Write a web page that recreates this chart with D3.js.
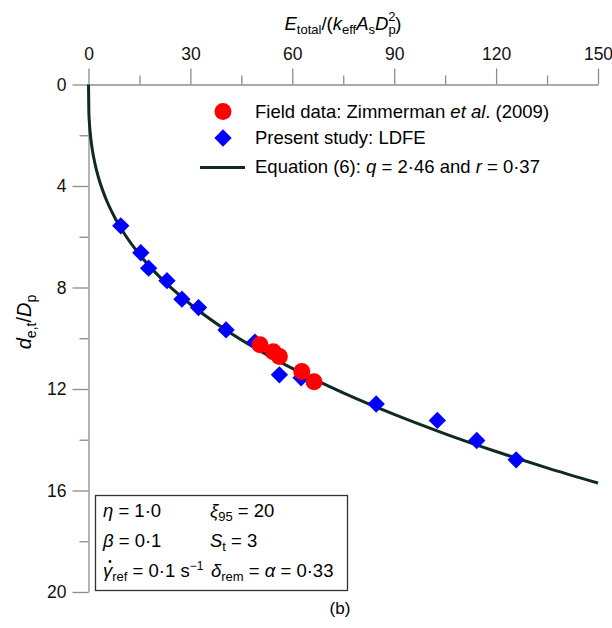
<!DOCTYPE html>
<html>
<head>
<meta charset="utf-8">
<script src="https://cdn.jsdelivr.net/npm/d3@7"></script>
<style>
  body { margin: 0; background: #fff; }
  svg { display: block; font-family: "Liberation Sans", Arial, sans-serif; }
  .axis path, .axis line { stroke: #8c8c8c; stroke-width: 1.3; }
  .axis text { font-size: 17.5px; fill: #111; font-family: "Liberation Sans", Arial, sans-serif; }
</style>
</head>
<body>
<svg id="chart" width="612" height="628"></svg>
<script>
// Tick values
const xMajor = [0, 30, 60, 90, 120, 150];
const xMinor = [15, 45, 75, 105, 135];
const yMajor = [0, 4, 8, 12, 16, 20];
const yMinor = [2, 6, 10, 14, 18];

// Field data: Zimmerman et al. (2009)
const fieldE = [50.5, 54.4, 56.2, 62.8, 66.4];
const fieldD = [10.26, 10.53, 10.72, 11.31, 11.71];

// Present study: LDFE
const ldfeE = [9.5, 15.4, 17.7, 23.1, 27.5, 32.4, 40.5, 49.0, 56.2, 62.6, 84.7, 102.7, 114.3, 125.9];
const ldfeD = [5.57, 6.63, 7.24, 7.73, 8.46, 8.79, 9.67, 10.15, 11.44, 11.56, 12.59, 13.24, 14.03, 14.79];

// Equation (6) curve, q = 2.46, r = 0.37
const eqE = [0, 0.1, 0.25, 0.5, 1, 2, 3, 5, 7.5, 10, 15, 20, 30, 40, 50, 60, 75, 90, 105, 120, 135, 150];
const eqD = [0, 1.049, 1.473, 1.904, 2.46, 3.179, 3.694, 4.462, 5.184, 5.767, 6.700, 7.453, 8.659, 9.632,
             10.460, 11.190, 12.154, 13.002, 13.766, 14.463, 15.107, 15.707];

const svg = d3.select('#chart');

const x = d3.scaleLinear().domain([0, 150]).range([88.5, 598]);
const y = d3.scaleLinear().domain([0, 20]).range([84.5, 592]);

// top axis
const xAxisG = svg.append('g')
  .attr('class', 'axis')
  .attr('transform', `translate(0,${y(0)})`);
xAxisG.call(d3.axisTop(x).tickValues(xMajor).tickSize(16).tickSizeOuter(0).tickPadding(9));
xAxisG.append('g')
  .call(d3.axisTop(x).tickValues(xMinor).tickSize(9).tickFormat(''))
  .select('.domain').remove();

// left axis
const yAxisG = svg.append('g')
  .attr('class', 'axis')
  .attr('transform', `translate(${x(0)},0)`);
yAxisG.call(d3.axisLeft(y).tickValues(yMajor).tickSize(16).tickSizeOuter(0).tickPadding(6));
yAxisG.append('g')
  .call(d3.axisLeft(y).tickValues(yMinor).tickSize(9).tickFormat(''))
  .select('.domain').remove();

// x axis title: E_total/(k_eff A_s D_p^2)
const xt = svg.append('text')
  .attr('x', 343).attr('y', 30)
  .attr('text-anchor', 'middle')
  .style('font-size', '18.5px');
xt.append('tspan').attr('font-style', 'italic').text('E');
xt.append('tspan').attr('font-size', '13px').attr('dy', 4).text('total');
xt.append('tspan').attr('dy', -4).text('/(');
xt.append('tspan').attr('font-style', 'italic').text('k');
xt.append('tspan').attr('font-size', '13px').attr('dy', 4).text('eff');
xt.append('tspan').attr('dy', -4).attr('font-style', 'italic').text('A');
xt.append('tspan').attr('font-size', '13px').attr('dy', 4).text('s');
xt.append('tspan').attr('dy', -4).attr('font-style', 'italic').text('D');
xt.append('tspan').attr('font-size', '13px').attr('dy', 4).text('p');
xt.append('tspan').attr('font-size', '13px').attr('dx', -7.5).attr('dy', -13).text('2');
xt.append('tspan').attr('dy', 9).text(')');

// y axis title: d_e,t/D_p
const yt = svg.append('text')
  .attr('transform', 'translate(31,322) rotate(-90)')
  .attr('text-anchor', 'middle')
  .style('font-size', '20px');
yt.append('tspan').attr('font-style', 'italic').text('d');
yt.append('tspan').attr('font-size', '14px').attr('dy', 5).text('e,t');
yt.append('tspan').attr('dy', -5).text('/');
yt.append('tspan').attr('font-style', 'italic').text('D');
yt.append('tspan').attr('font-size', '14px').attr('dy', 5).text('p');

// equation curve
const eqPts = eqE.map((e, i) => [e, eqD[i]]);
svg.append('path')
  .datum(eqPts)
  .attr('fill', 'none')
  .attr('stroke', '#0f2a22')
  .attr('stroke-width', 3)
  .attr('d', d3.line().x(d => x(d[0])).y(d => y(d[1])).curve(d3.curveMonotoneX));

// LDFE diamonds
const diamond = d3.symbol().type(d3.symbolSquare).size(150);
svg.selectAll('.ldfe')
  .data(ldfeE.map((e, i) => [e, ldfeD[i]]))
  .enter().append('path')
  .attr('class', 'ldfe')
  .attr('d', diamond)
  .attr('fill', '#0000ff')
  .attr('transform', d => `translate(${x(d[0])},${y(d[1])}) rotate(45)`);

// field circles
svg.selectAll('.field')
  .data(fieldE.map((e, i) => [e, fieldD[i]]))
  .enter().append('circle')
  .attr('class', 'field')
  .attr('cx', d => x(d[0]))
  .attr('cy', d => y(d[1]))
  .attr('r', 8.5)
  .attr('fill', '#ff0000');

// legend
const lg = svg.append('g').style('font-size', '18.5px');
lg.append('circle').attr('cx', 223).attr('cy', 111.5).attr('r', 8.5).attr('fill', '#ff0000');
lg.append('path').attr('d', diamond).attr('fill', '#0000ff')
  .attr('transform', 'translate(223,138) rotate(45)');
lg.append('line').attr('x1', 200).attr('x2', 245).attr('y1', 167.5).attr('y2', 167.5)
  .attr('stroke', '#0f2a22').attr('stroke-width', 3);

const l1 = lg.append('text').attr('x', 255).attr('y', 118);
l1.append('tspan').text('Field data: Zimmerman ');
l1.append('tspan').attr('font-style', 'italic').text('et al');
l1.append('tspan').text('. (2009)');
lg.append('text').attr('x', 255).attr('y', 144).text('Present study: LDFE');
const l3 = lg.append('text').attr('x', 255).attr('y', 173);
l3.append('tspan').text('Equation (6): ');
l3.append('tspan').attr('font-style', 'italic').text('q');
l3.append('tspan').text(' = 2·46 and ');
l3.append('tspan').attr('font-style', 'italic').text('r');
l3.append('tspan').text(' = 0·37');

// parameter box
const bx = svg.append('g').style('font-size', '18.5px');
bx.append('rect').attr('x', 95.5).attr('y', 495.5).attr('width', 252).attr('height', 95)
  .attr('fill', '#fff').attr('stroke', '#333').attr('stroke-width', 1.3);

function sym(g, xp, yp, parts) {
  const t = g.append('text').attr('x', xp).attr('y', yp);
  parts.forEach(p => {
    const s = t.append('tspan').text(p.t);
    if (p.i) s.attr('font-style', 'italic');
    if (p.sub) s.attr('font-size', '13px').attr('dy', 4);
    if (p.sup) s.attr('font-size', '12px').attr('dy', -7);
    if (p.back) s.attr('dy', p.back);
  });
  return t;
}
sym(bx, 103, 517, [{t: 'η', i: true}, {t: ' = 1·0'}]);
sym(bx, 210, 517, [{t: 'ξ', i: true}, {t: '95', sub: true}, {t: ' = 20', back: -4}]);
sym(bx, 103, 547, [{t: 'β', i: true}, {t: ' = 0·1'}]);
sym(bx, 210, 547, [{t: 'S', i: true}, {t: 't', sub: true}, {t: ' = 3', back: -4}]);
sym(bx, 103, 577, [{t: 'γ', i: true}, {t: 'ref', sub: true}, {t: ' = 0·1 s', back: -4}, {t: '−1', sup: true}]);
// dot over gamma
bx.append('circle').attr('cx', 110).attr('cy', 561.5).attr('r', 1.4).attr('fill', '#111');
sym(bx, 211, 577, [{t: 'δ', i: true}, {t: 'rem', sub: true}, {t: ' = ', back: -4}, {t: 'α', i: true}, {t: ' = 0·33'}]);

// panel label
svg.append('text').attr('x', 340).attr('y', 614).attr('text-anchor', 'middle')
  .style('font-size', '17px').text('(b)');
</script>
</body>
</html>
